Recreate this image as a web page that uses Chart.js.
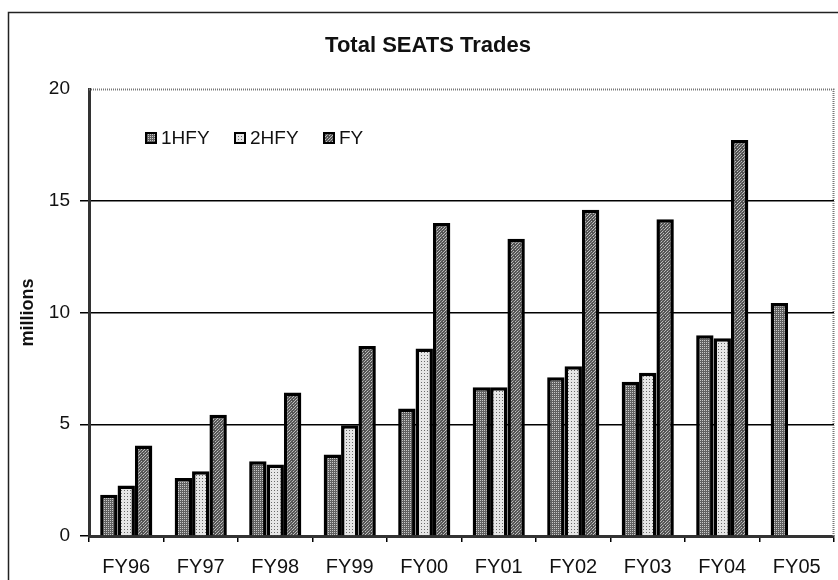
<!DOCTYPE html>
<html>
<head>
<meta charset="utf-8">
<script src="https://cdn.jsdelivr.net/npm/chart.js@4.4.0/dist/chart.umd.min.js"></script>
<style>
html,body{margin:0;padding:0;background:#fff;}
#wrap{width:838px;height:580px;position:relative;}
</style>
</head>
<body>
<div id="wrap"><canvas id="c" width="838" height="580"></canvas></div>
<script>
const categories = ["FY96","FY97","FY98","FY99","FY00","FY01","FY02","FY03","FY04","FY05"];
const seriesNames = ["1HFY","2HFY","FY"];
const firstHalf  = [1.85, 2.6, 3.35, 3.65, 5.7, 6.65, 7.1, 6.9, 8.98, 10.42];
const secondHalf = [2.26, 2.9, 3.2, 4.95, 8.39, 6.65, 7.59, 7.3, 8.85, null];
const fullYear   = [4.05, 5.42, 6.42, 8.5, 14.0, 13.3, 14.6, 14.17, 17.72, null];
const yTicks = [0, 5, 10, 15, 20];
const chartTitle = 'Total SEATS Trades';
const yAxisTitle = 'millions';

const FONT = '"Liberation Sans", Arial, sans-serif';

function makePattern(kind){
  const c = document.createElement('canvas');
  const ctx = c.getContext('2d');
  if(kind === 0){
    c.width = 2; c.height = 2;
    ctx.fillStyle = '#606060'; ctx.fillRect(0,0,2,2);
    ctx.fillStyle = '#c8c8c8'; ctx.fillRect(0,0,1,1);
  } else if(kind === 1){
    c.width = 3; c.height = 3;
    ctx.fillStyle = '#e6e6e6'; ctx.fillRect(0,0,3,3);
    ctx.fillStyle = '#6a6a6a'; ctx.fillRect(1,1,1,1);
  } else {
    c.width = 6; c.height = 6;
    ctx.fillStyle = '#555'; ctx.fillRect(0,0,6,6);
    ctx.fillStyle = '#c0c0c0';
    [[0,5],[1,4],[2,3],[4,1],[5,0],[3,5],[5,3],[1,1]].forEach(p=>ctx.fillRect(p[0],p[1],1,1));
    ctx.fillStyle = '#909090';
    [[3,2],[0,2],[2,0]].forEach(p=>ctx.fillRect(p[0],p[1],1,1));
  }
  return document.getElementById('c').getContext('2d').createPattern(c,'repeat');
}
const fills = [makePattern(0), makePattern(1), makePattern(2)];

const framePlugin = {
  id: 'frame',
  beforeDraw(chart){
    const ctx = chart.ctx;
    ctx.save();
    ctx.fillStyle = '#fff';
    ctx.fillRect(0,0,chart.width,chart.height);
    ctx.strokeStyle = '#222';
    ctx.lineWidth = 1.5;
    ctx.strokeRect(8.5, 12.5, 900, 700);
    ctx.fillStyle = '#111';
    ctx.font = 'bold 22px ' + FONT;
    ctx.textAlign = 'center';
    ctx.textBaseline = 'middle';
    ctx.fillText(chartTitle, 428, 46);
    ctx.restore();
  },
  beforeDatasetsDraw(chart){
    const a = chart.chartArea, ctx = chart.ctx;
    ctx.save();
    ctx.strokeStyle = '#777';
    ctx.lineWidth = 2;
    ctx.setLineDash([1,1]);
    ctx.beginPath();
    ctx.moveTo(a.left, a.top+0.5);
    ctx.lineTo(a.right-0.5, a.top+0.5);
    ctx.lineTo(a.right-0.5, a.bottom);
    ctx.stroke();
    ctx.restore();
  },
  afterDraw(chart){
    const ctx = chart.ctx;
    ctx.save();
    ctx.font = '19px ' + FONT;
    ctx.textBaseline = 'middle';
    ctx.textAlign = 'left';
    const y = 138;
    const xs = [145, 234, 323];
    chart.data.datasets.forEach((ds,i)=>{
      const x = xs[i];
      ctx.fillStyle = '#000';
      ctx.fillRect(x, y-6, 12, 12);
      ctx.fillStyle = fills[i];
      ctx.fillRect(x+2, y-4, 8, 8);
      ctx.fillStyle = '#111';
      ctx.fillText(ds.label, x+16, y+1);
    });
    ctx.restore();
  }
};

const datasets = [firstHalf, secondHalf, fullYear].map((d,i)=>({
  label: seriesNames[i],
  data: d,
  backgroundColor: fills[i],
  borderColor: '#000',
  borderWidth: 3.5,
  borderSkipped: 'bottom',
  categoryPercentage: 0.7,
  barPercentage: 1.0
}));

new Chart(document.getElementById('c'), {
  type: 'bar',
  data: { labels: categories, datasets },
  plugins: [framePlugin],
  options: {
    responsive: false,
    animation: false,
    layout: { padding: { left: 0, right: 4, top: 89, bottom: 0 } },
    plugins: {
      legend: { display: false },
      tooltip: { enabled: false },
      title: { display: false }
    },
    scales: {
      x: {
        offset: true,
        grid: { display: true, drawOnChartArea: false, offset: true, color: '#000', tickLength: 6, lineWidth: 1.5 },
        border: { display: true, color: '#333', width: 3 },
        ticks: {
          color: '#111',
          padding: 13,
          maxRotation: 0,
          font: { family: FONT, size: 20 }
        },
        afterFit(scale){ scale.height = 44; }
      },
      y: {
        min: 0, max: 20,
        afterBuildTicks(scale){ scale.ticks = yTicks.map(v=>({value:v})); },
        grid: {
          color: ctx => (ctx.tick && ctx.tick.value === 20) ? 'rgba(0,0,0,0)' : '#000',
          lineWidth: 1.5,
          tickLength: 9,
          drawTicks: true
        },
        border: { display: true, color: '#333', width: 3 },
        ticks: {
          color: '#111',
          padding: 10,
          font: { family: FONT, size: 19 }
        },
        title: {
          display: true,
          text: yAxisTitle,
          color: '#111',
          font: { family: FONT, size: 18, weight: 'bold' },
          padding: { top: 17, bottom: 0 }
        },
        afterFit(scale){ scale.width = 89; }
      }
    }
  }
});
</script>
</body>
</html>
